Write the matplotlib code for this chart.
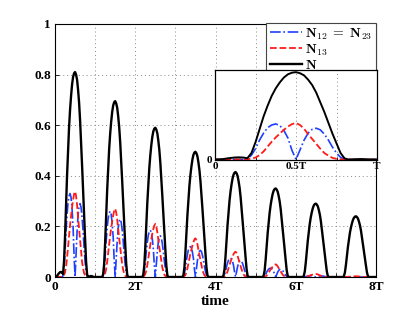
import numpy as np
import matplotlib
matplotlib.use("Agg")
import matplotlib.pyplot as plt

plt.rcParams['mathtext.fontset'] = 'cm'

# one-period shape (t in units of T)
t_shape = np.arange(41) * 0.025
N_shape = [0, 0.001, 0.004, 0.010, 0.015, 0.019, 0.020, 0.018, 0.012, 0.06,
           0.16, 0.28, 0.40, 0.50, 0.59, 0.66, 0.715, 0.76, 0.79, 0.805,
           0.81, 0.80, 0.78, 0.74, 0.69, 0.62, 0.53, 0.44, 0.34, 0.24,
           0.15, 0.06, 0.01, 0, 0.001, 0.003, 0.004, 0.003, 0.001, 0, 0]
N12_shape = [0, 0, 0, 0, 0, 0, 0, 0, 0.005, 0.04,
             0.10, 0.18, 0.245, 0.295, 0.32, 0.33, 0.315, 0.27, 0.20, 0.085,
             0.0, 0.09, 0.18, 0.245, 0.28, 0.29, 0.275, 0.235, 0.18, 0.115,
             0.06, 0.02, 0.003, 0, 0, 0, 0, 0, 0, 0, 0]
N13_shape = [0, 0, 0, 0, 0, 0, 0, 0, 0.002, 0.008,
             0.018, 0.04, 0.075, 0.12, 0.165, 0.205, 0.24, 0.275, 0.305, 0.328,
             0.338, 0.32, 0.285, 0.235, 0.19, 0.145, 0.10, 0.06, 0.035, 0.015,
             0.006, 0.002, 0, 0, 0, 0, 0, 0, 0, 0, 0]

# peak heights in each period (main plot)
N_peaks = [0.81, 0.695, 0.59, 0.495, 0.415, 0.35, 0.29, 0.24]
N13_peaks = [0.338, 0.27, 0.21, 0.153, 0.10, 0.05, 0.012, 0.003]
N12_peaks = [0.33, 0.26, 0.185, 0.12, 0.075, 0.035, 0.005, 0.0]

main_xticks = [0, 1, 2, 3, 4, 5, 6, 7, 8]
main_xlabels = ['0', '', '2T', '', '4T', '', '6T', '', '8T']
main_yticks = [0, 0.2, 0.4, 0.6, 0.8, 1]
main_ylabels = ['0', '0.2', '0.4', '0.6', '0.8', '1']
inset_xticks = [0, 0.25, 0.5, 0.75, 1]
inset_xlabels = ['0', '', '0.5T', '', 'T']

labels = [r'$\mathbf{N}_{\mathbf{12}}\;\mathbf{=}\;\mathbf{N}_{\mathbf{23}}$',
          r'$\mathbf{N}_{\mathbf{13}}$', r'$\mathbf{N}$']


def build(shape, peaks):
    ts, vs = [], []
    shape = np.asarray(shape, float)
    for k, p in enumerate(peaks):
        part = shape[:-1] * p / peaks[0]
        if k > 0:
            # the small pre-pulse bump only appears in the first period
            part = np.where(t_shape[:-1] < 0.2, 0.0, part)
            part = np.where(t_shape[:-1] > 0.8, 0.0, part)
        ts.append(k + t_shape[:-1])
        vs.append(part)
    ts.append([len(peaks)])
    vs.append([0.0])
    return np.concatenate(ts), np.concatenate(vs)


tN, vN = build(N_shape, N_peaks)
t12, v12 = build(N12_shape, N12_peaks)
t13, v13 = build(N13_shape, N13_peaks)

tick_font = dict(family='Liberation Serif', weight='bold')

fig = plt.figure(figsize=(4.15, 3.12), dpi=100)
ax = fig.add_axes([55 / 415, 35 / 312, 321 / 415, 253 / 312])

l1, = ax.plot(t12, v12, color='#1f3fff', ls='-.', lw=1.2, clip_on=False)
l2, = ax.plot(t13, v13, color='#ff1a1a', ls='--', lw=1.3, clip_on=False)
l3, = ax.plot(tN, vN, color='black', ls='-', lw=1.7)
ax.set_xlim(0, 8)
ax.set_ylim(0, 1)
ax.set_xticks(main_xticks)
ax.set_xticklabels(main_xlabels, fontsize=9.5, **tick_font)
ax.set_yticks(main_yticks)
ax.set_yticklabels(main_ylabels, fontsize=9.5, **tick_font)
ax.tick_params(direction='in', length=3, width=0.6, pad=3)
ax.grid(True, ls=(0, (1, 3)), color='#888888', lw=0.7)
ax.set_xlabel('time', fontsize=11, labelpad=1, **tick_font)
for s in ax.spines.values():
    s.set_linewidth(0.8)

leg = ax.legend([l1, l2, l3], labels, loc='upper right', bbox_to_anchor=(1.0, 1.005),
                borderaxespad=0, fancybox=False, framealpha=1, edgecolor='#444444',
                fontsize=10, handlelength=2.3, handletextpad=0.25, labelspacing=0.05,
                borderpad=0.25)
leg.get_frame().set_linewidth(0.8)
leg.set_zorder(10)

ins = fig.add_axes([215 / 415, (312 - 159.5) / 312, 162 / 415, 89.5 / 312])
ins.plot(t_shape, N12_shape, color='#1f3fff', ls='-.', lw=1.2, clip_on=False)
ins.plot(t_shape, N13_shape, color='#ff1a1a', ls='--', lw=1.3, clip_on=False)
ins.plot(t_shape, N_shape, color='black', ls='-', lw=1.4)
ins.set_xlim(0, 1)
ins.set_ylim(0, 0.83)
ins.set_xticks(inset_xticks)
ins.set_xticklabels(inset_xlabels, fontsize=8, **tick_font)
ins.set_yticks([0])
ins.set_yticklabels(['0'], fontsize=8, **tick_font)
ins.tick_params(direction='in', length=2, width=0.6, pad=2)
ins.grid(True, axis='x', ls=(0, (1, 3)), color='#888888', lw=0.7)
for s in ins.spines.values():
    s.set_linewidth(0.9)

fig.savefig('out.png', dpi=100)
